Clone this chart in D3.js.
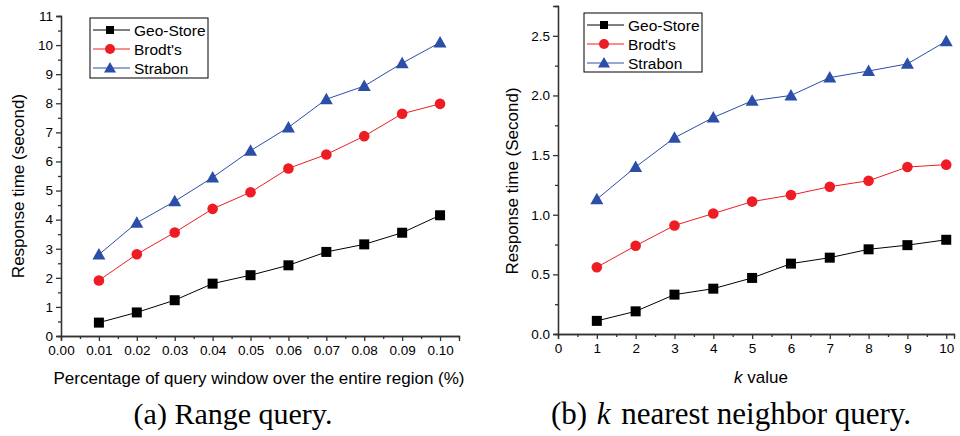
<!DOCTYPE html>
<html><head><meta charset="utf-8">
<script src="https://cdn.jsdelivr.net/npm/d3@7"></script>
<style>
body{margin:0;background:#fff;}
svg{display:block;}
text{font-family:"Liberation Sans",Arial,sans-serif;fill:#000;}
.cap{font-family:"Liberation Serif","Times New Roman",serif;}
</style></head>
<body><svg id="c" width="960" height="436"></svg>
<script>
const seriesNames = ["Geo-Store", "Brodt's", "Strabon"];
const seriesColors = ["#000000", "#ee1c24", "#2b4ea8"];
const seriesShapes = ["square", "circle", "triangle"];

const rangeX = [0.01,0.02,0.03,0.04,0.05,0.06,0.07,0.08,0.09,0.10];
const rangeGeo = [0.46,0.81,1.23,1.80,2.09,2.43,2.89,3.15,3.55,4.15];
const rangeBrodt = [1.91,2.81,3.56,4.37,4.94,5.76,6.24,6.87,7.64,7.98];
const rangeStrabon = [2.80,3.89,4.63,5.45,6.37,7.17,8.14,8.59,9.38,10.09];
const rangeXTicks = [0,0.01,0.02,0.03,0.04,0.05,0.06,0.07,0.08,0.09,0.10];
const rangeYTicks = [0,1,2,3,4,5,6,7,8,9,10,11];

const knnX = [1,2,3,4,5,6,7,8,9,10];
const knnGeo = [0.11,0.19,0.33,0.38,0.47,0.59,0.64,0.71,0.745,0.79];
const knnBrodt = [0.56,0.74,0.91,1.01,1.11,1.165,1.235,1.285,1.40,1.42];
const knnStrabon = [1.13,1.40,1.645,1.815,1.955,2.0,2.15,2.205,2.265,2.455];
const knnXTicks = [0,1,2,3,4,5,6,7,8,9,10];
const knnYTicks = [0,0.5,1.0,1.5,2.0,2.5];

const svg = d3.select("#c");

function marker(g, shape, color, x, y){
  if(shape==="square"){
    g.append("rect").attr("x",x-5).attr("y",y-5).attr("width",10).attr("height",10).attr("fill",color);
  } else if(shape==="circle"){
    g.append("circle").attr("cx",x).attr("cy",y).attr("r",5.3).attr("fill",color);
  } else {
    g.append("path").attr("d",`M${x},${y-6.5}L${x+6.5},${y+5}L${x-6.5},${y+5}Z`).attr("fill",color);
  }
}

function panel(cfg){
  const g = svg.append("g");
  const x = d3.scaleLinear().domain(cfg.xDomain).range([cfg.left, cfg.right]);
  const y = d3.scaleLinear().domain(cfg.yDomain).range([cfg.bottom, cfg.top]);
  const xa = d3.axisBottom(x).tickValues(cfg.xTicks).tickFormat(cfg.xFmt).tickSize(5).tickPadding(4);
  const xMinor = d3.axisBottom(x).tickValues(cfg.xMinor).tickFormat("").tickSize(3);
  const ya = d3.axisLeft(y).tickValues(cfg.yTicks).tickFormat(cfg.yFmt).tickSize(5).tickPadding(3);
  const yMinor = d3.axisLeft(y).tickValues(cfg.yMinor).tickFormat("").tickSize(3);
  [ [xMinor,"b"], [xa,"b"], [yMinor,"l"], [ya,"l"] ].forEach(([ax,s])=>{
    const a = g.append("g").attr("transform", s==="b" ? `translate(0,${cfg.bottom})` : `translate(${cfg.left},0)`).call(ax);
    a.attr("font-family",null);
    a.selectAll("path,line").attr("stroke","#333").attr("stroke-width",1.3);
    a.selectAll("text").attr("font-size",13.5).attr("fill","#000");
  });
  cfg.series.forEach((vals,i)=>{
    const line = d3.line().x((d,j)=>x(cfg.xs[j])).y(d=>y(d));
    g.append("path").datum(vals).attr("d",line).attr("fill","none").attr("stroke",seriesColors[i]).attr("stroke-width",1);
    vals.forEach((v,j)=>marker(g, seriesShapes[i], seriesColors[i], x(cfg.xs[j]), y(v)));
  });
  const L = cfg.legend;
  g.append("rect").attr("x",L.x).attr("y",L.y).attr("width",L.w).attr("height",L.h).attr("fill","#fff").attr("stroke","#000").attr("stroke-width",1);
  seriesNames.forEach((n,i)=>{
    const cy = L.y + 12 + i*19;
    g.append("line").attr("x1",L.x+3).attr("x2",L.x+40).attr("y1",cy).attr("y2",cy).attr("stroke",seriesColors[i]).attr("stroke-width",1);
    const mx = L.x+20;
    if(seriesShapes[i]==="square") g.append("rect").attr("x",mx-4).attr("y",cy-4).attr("width",8).attr("height",8).attr("fill",seriesColors[i]);
    else if(seriesShapes[i]==="circle") g.append("circle").attr("cx",mx).attr("cy",cy).attr("r",5).attr("fill",seriesColors[i]);
    else g.append("path").attr("d",`M${mx},${cy-6}L${mx+6},${cy+4.5}L${mx-6},${cy+4.5}Z`).attr("fill",seriesColors[i]);
    g.append("text").attr("x",L.x+44).attr("y",cy+5.5).attr("font-size",15.5).text(n);
  });
  g.append("text").attr("transform",`translate(${cfg.yTitleX},${cfg.yTitleY}) rotate(-90)`)
    .attr("text-anchor","middle").attr("font-size",17).text(cfg.yTitle);
  return {g,x,y};
}

const p1 = panel({
  left:61, right:459, top:16, bottom:336,
  xDomain:[0,0.105], yDomain:[0,11],
  xTicks:rangeXTicks, xMinor:d3.range(0.005,0.105,0.01),
  yTicks:rangeYTicks, yMinor:d3.range(0.5,11,1),
  xFmt:d3.format(".2f"), yFmt:d3.format("d"),
  xs:rangeX, series:[rangeGeo,rangeBrodt,rangeStrabon],
  legend:{x:90,y:18,w:118,h:60},
  yTitleX:24, yTitleY:186, yTitle:"Response time (second)"
});
p1.g.append("text").attr("x",259).attr("y",384).attr("text-anchor","middle").attr("font-size",17)
  .text("Percentage of query window over the entire region (%)");

const p2 = panel({
  left:558, right:954, top:6, bottom:334,
  xDomain:[0,10.2], yDomain:[0,2.75],
  xTicks:knnXTicks, xMinor:d3.range(0.5,10.2,1),
  yTicks:knnYTicks, yMinor:[0.25,0.75,1.25,1.75,2.25],
  xFmt:d3.format("d"), yFmt:d3.format(".1f"),
  xs:knnX, series:[knnGeo,knnBrodt,knnStrabon],
  legend:{x:584,y:13,w:118,h:59},
  yTitleX:518, yTitleY:181, yTitle:"Response time (Second)"
});
const kt = p2.g.append("text").attr("x",761).attr("y",383).attr("text-anchor","middle").attr("font-size",17);
kt.append("tspan").attr("font-style","italic").text("k");
kt.append("tspan").text(" value");

svg.append("text").attr("class","cap").attr("x",233).attr("y",424).attr("text-anchor","middle").attr("font-size",30).text("(a) Range query.");
const cb = svg.append("text").attr("class","cap").attr("x",731).attr("y",424).attr("text-anchor","middle").attr("font-size",31);
cb.append("tspan").text("(b) ");
cb.append("tspan").attr("font-style","italic").attr("dx",2).text("k");
cb.append("tspan").attr("dx",3).text(" nearest neighbor query.");
</script></body></html>
